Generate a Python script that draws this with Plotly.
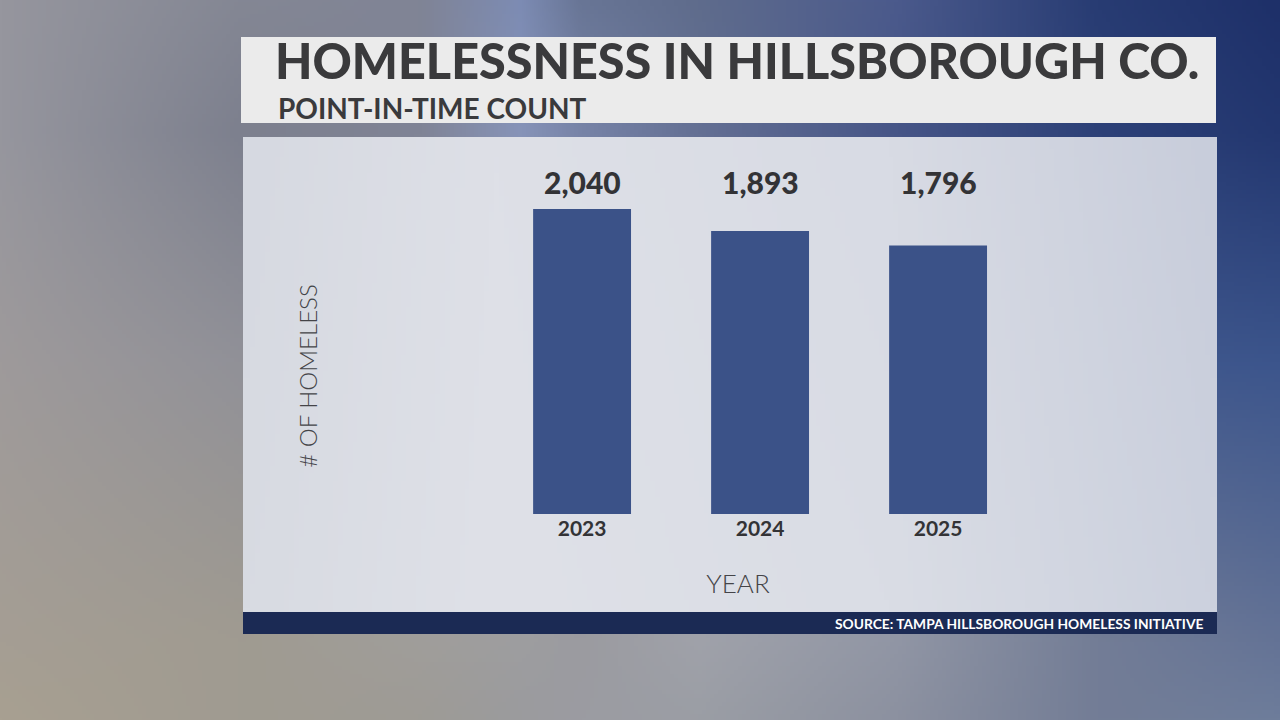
import base64, struct, zlib
import numpy as np
import plotly.graph_objects as go

# ---------------- data ----------------
years = ["2023", "2024", "2025"]
homeless_counts = [2040, 1893, 1796]

title_text = "HOMELESSNESS IN HILLSBOROUGH CO."
subtitle_text = "POINT-IN-TIME COUNT"
y_title = "# OF HOMELESS"
x_title = "YEAR"
source_text = "SOURCE: TAMPA HILLSBOROUGH HOMELESS INITIATIVE"

# ---------------- layout geometry (pixels) ----------------
W, H = 1280, 720
L, R, T, B = 259, 1217, 137, 615          # plot area
PW, PH = R - L, B - T
BASE = 514                                # pixel row of the bar baseline / x axis
Y_TOP = 2522                              # value at the top of the plot area
Y_BOT = -Y_TOP * (B - BASE) / (BASE - T)  # value at the bottom of the plot area


def px_x(px):
    return (px - L) / PW


def px_y(py):
    return (B - py) / PH


def png_uri(arr):
    arr = np.clip(arr, 0, 255).astype(np.uint8)
    h, w, _ = arr.shape
    raw = b"".join(b"\x00" + arr[r].tobytes() for r in range(h))

    def chunk(t, d):
        return struct.pack(">I", len(d)) + t + d + struct.pack(">I", zlib.crc32(t + d) & 0xFFFFFFFF)

    png = (b"\x89PNG\r\n\x1a\n"
           + chunk(b"IHDR", struct.pack(">IIBBBBB", w, h, 8, 2, 0, 0, 0))
           + chunk(b"IDAT", zlib.compress(raw, 9))
           + chunk(b"IEND", b""))
    return "data:image/png;base64," + base64.b64encode(png).decode()


def grid_gradient(xs, ys, cols, w, h, full_w, full_h):
    cols = np.array(cols, dtype=float)
    gx = np.linspace(0, full_w, w)
    gy = np.linspace(0, full_h, h)
    tmp = np.stack([np.stack([np.interp(gx, xs, cols[r, :, c]) for c in range(3)], -1)
                    for r in range(len(ys))])
    out = np.stack([np.stack([np.interp(gy, ys, tmp[:, i, c]) for i in range(w)], 0)
                    for c in range(3)], -1)
    return np.transpose(out, (1, 0, 2))


# background (blurred studio backdrop)
bg_xs = [0, 240, 420, 520, 580, 700, 900, 1100, 1280]
bg_ys = [0, 130, 360, 640, 720]
bg_cols = [
    [(150, 150, 158), (132, 135, 148), (128, 132, 150), (125, 140, 180), (105, 118, 150), (95, 108, 140), (75, 90, 140), (40, 60, 115), (30, 48, 105)],
    [(150, 150, 158), (125, 128, 142), (128, 132, 150), (135, 148, 185), (120, 132, 168), (100, 112, 148), (70, 85, 135), (45, 65, 120), (35, 55, 112)],
    [(158, 154, 155), (145, 145, 152), (140, 145, 160), (140, 145, 160), (140, 145, 160), (130, 138, 160), (110, 120, 155), (65, 88, 140), (60, 85, 140)],
    [(165, 158, 148), (160, 155, 145), (160, 158, 155), (158, 158, 160), (155, 155, 160), (160, 162, 170), (145, 150, 165), (115, 125, 150), (100, 115, 150)],
    [(168, 160, 145), (160, 155, 145), (158, 155, 150), (155, 155, 158), (155, 156, 162), (155, 158, 165), (140, 145, 160), (115, 125, 150), (110, 125, 155)],
]
bg_img = grid_gradient(bg_xs, bg_ys, bg_cols, 320, 180, W, H)

# chart panel
pan_x0, pan_x1, pan_y0, pan_y1 = 243, 1217, 137, 612
pn_xs = [0, 250, 650, 974]
pn_ys = [0, 475]
pn_cols = [
    [(214, 217, 225), (222, 224, 231), (216, 219, 228), (200, 205, 219)],
    [(216, 219, 226), (223, 225, 232), (218, 221, 229), (204, 209, 222)],
]
pn_img = grid_gradient(pn_xs, pn_ys, pn_cols, 200, 60, pan_x1 - pan_x0, pan_y1 - pan_y0)

fig = go.Figure()
fig.add_trace(go.Bar(
    x=years, y=homeless_counts, width=0.55,
    marker=dict(color="#3b5288", line=dict(width=0)),
    hoverinfo="x+y", showlegend=False,
))

annotations = []
for i, v in enumerate(homeless_counts):
    annotations.append(dict(
        x=i, xref="x", y=px_y(182), yref="paper", text=f"{v:,}", showarrow=False,
        xanchor="center", yanchor="middle",
        font=dict(family="Lato", size=30, color="#333336", weight=900),
    ))
annotations.append(dict(
    x=px_x(1206), xref="paper", y=px_y(623), yref="paper", text=source_text,
    showarrow=False, xanchor="right", yanchor="middle",
    font=dict(family="Lato", size=13.8, color="#ffffff", weight=700),
))
annotations.append(dict(
    x=px_x(277), xref="paper", y=px_y(108.5), yref="paper", text=subtitle_text,
    showarrow=False, xanchor="left", yanchor="middle", borderpad=0,
    font=dict(family="Lato", size=28, color="#3a3a3c", weight=700),
))

fig.update_layout(
    width=W, height=H, autosize=False,
    margin=dict(l=L, r=W - R, t=T, b=H - B, pad=0),
    paper_bgcolor="#8f919c", plot_bgcolor="rgba(0,0,0,0)",
    title=dict(text=title_text, x=275 / W, xref="container", xanchor="left",
               y=1 - 62.5 / H, yref="container", yanchor="middle",
               font=dict(family="Lato", size=48.5, color="#3a3a3c", weight=900)),
    xaxis=dict(type="category", range=[-1.815, 3.567], showgrid=False, zeroline=False,
               showline=False, ticks="", fixedrange=True,
               anchor="free", position=px_y(BASE),
               tickfont=dict(family="Lato", size=21, color="#333336", weight=700),
               title=dict(text=x_title, standoff=35,
                          font=dict(family="Lato", size=26, color="#444448", weight=300))),
    yaxis=dict(range=[Y_BOT, Y_TOP], showgrid=False, zeroline=False, showline=False,
               showticklabels=False, ticks="", anchor="free", position=px_x(335),
               fixedrange=True,
               title=dict(text=y_title, standoff=9,
                          font=dict(family="Lato", size=24, color="#444448", weight=300))),
    images=[
        dict(source=png_uri(bg_img), xref="paper", yref="paper", x=px_x(0), y=px_y(0),
             sizex=W / PW, sizey=H / PH, xanchor="left", yanchor="top",
             sizing="stretch", layer="below"),
        dict(source=png_uri(pn_img), xref="paper", yref="paper", x=px_x(pan_x0), y=px_y(pan_y0),
             sizex=(pan_x1 - pan_x0) / PW, sizey=(pan_y1 - pan_y0) / PH,
             xanchor="left", yanchor="top", sizing="stretch", layer="below"),
    ],
    shapes=[
        dict(type="rect", xref="paper", yref="paper", x0=px_x(241), x1=px_x(1216),
             y0=px_y(123), y1=px_y(37), fillcolor="#ebebeb", line=dict(width=0), layer="below"),
        dict(type="rect", xref="paper", yref="paper", x0=px_x(243), x1=px_x(1217),
             y0=px_y(634), y1=px_y(612), fillcolor="#1b2a54", line=dict(width=0), layer="below"),
    ],
    annotations=annotations,
)

fig.write_html("out.html", config={"displayModeBar": False},
               post_script="document.body.style.margin='0';document.body.style.overflow='hidden';")
